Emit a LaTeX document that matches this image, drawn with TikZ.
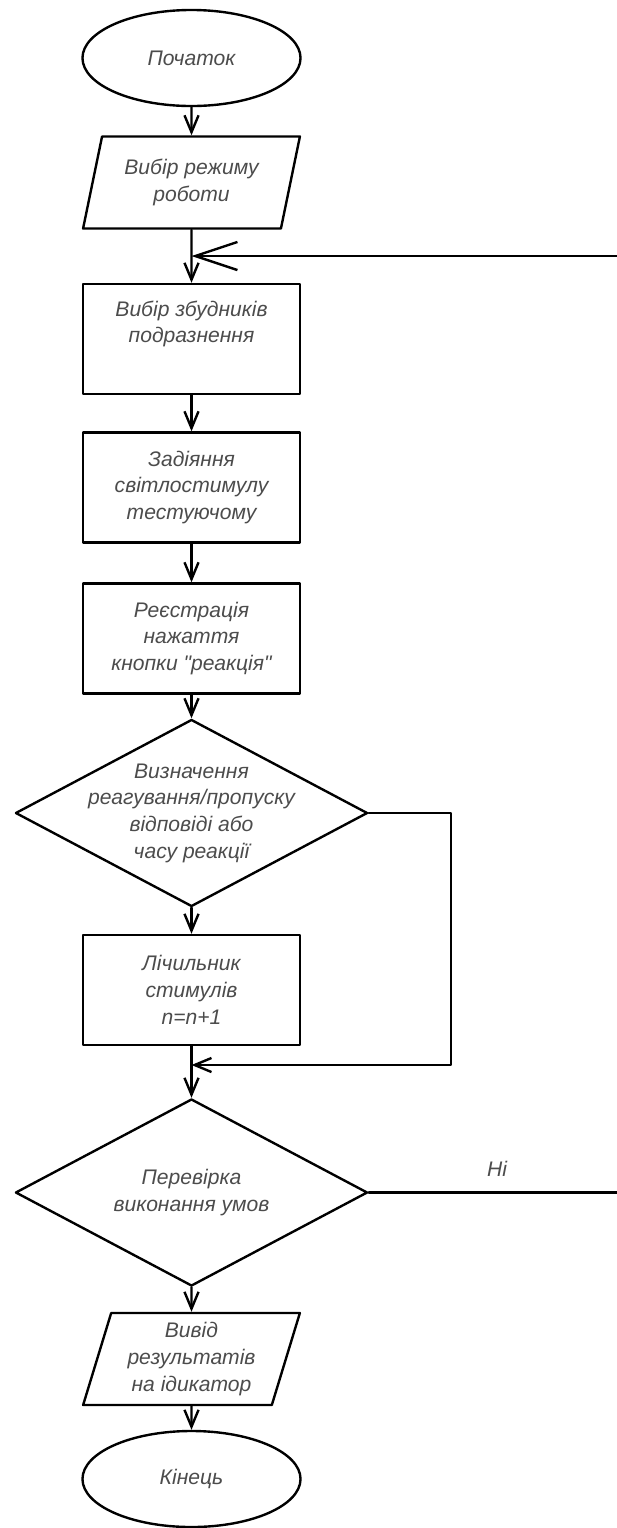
\documentclass[tikz,border=0pt]{standalone}
\usepackage{fontspec}
\setmainfont{Liberation Sans}
\usetikzlibrary{arrows.meta, positioning, shapes.geometric}

\begin{document}
\begin{tikzpicture}[x=0.025cm, y=-0.025cm, >={Straight Barb[length=12pt, width=10pt]}, line cap=round, line join=round]
	\def\cx{191.5}
	
	\tikzset{
		txt/.style={font=\itshape\fontsize{15}{19}\selectfont, text=black!70, align=center},
		term/.style={ellipse, draw, line width=1.7pt, minimum width=5.45cm, minimum height=2.4cm, inner sep=0pt, txt},
		io/.style={trapezium, trapezium left angle=73, trapezium right angle=107, trapezium stretches=true, draw, line width=1.7pt, minimum width=5.425cm, minimum height=2.3cm, inner sep=0pt, txt},
		proc/.style={rectangle, draw, line width=1.7pt, minimum width=5.425cm, minimum height=2.75cm, inner sep=0pt, txt},
		cond/.style={diamond, draw, line width=1.7pt, minimum width=8.8cm, minimum height=4.675cm, inner sep=0pt},
		arr/.style={line width=1.7pt, ->},
		bigarr/.style={line width=1.7pt, -{Straight Barb[length=30pt, width=20pt]}}
	}
	
	\useasboundingbox (0,0) rectangle (617,1528);
	
	\node[term] (start) at (\cx,58) {Початок};
	\node[io] (in1) at (\cx,182.5) {Вибір режиму\\роботи};
	\node[proc] (sel) at (\cx,339) {Вибір збудників\\подразнення\\ \strut};
	\node[proc] (stim) at (\cx,487.5) {Задіяння\\світлостимулу\\тестуючому};
	\node[proc] (reg) at (\cx,638.5) {Реєстрація\\нажаття\\кнопки \textquotedbl реакція\textquotedbl};
	\node[cond, label={[txt]center:Визначення\\реагування/пропуску\\відповіді або\\часу реакції}] (dec1) at (\cx,813) {};
	\node[proc] (cnt) at (\cx,990) {Лічильник\\стимулів\\n=n+1};
	\node[cond, label={[txt]center:Перевірка\\виконання умов}] (dec2) at (\cx,1192.5) {};
	\node[io] (out) at (\cx,1359) {Вивід\\результатів\\на ідикатор};
	\node[term] (stop) at (\cx,1479) {Кінець};
	
	\coordinate (ret) at (617,256);
	\coordinate (join) at (\cx,256);
	\coordinate (brk) at (451,1065);
	\coordinate (merge) at (\cx,1065);
	\coordinate (exit) at (617,1192.5);
	
	\draw[arr] (start) -- (in1);
	\draw[arr] (in1) -- (sel);
	\draw[bigarr] (ret) -- (join);
	\draw[arr] (sel) -- (stim);
	\draw[arr] (stim) -- (reg);
	\draw[arr] (reg) -- (dec1);
	\draw[arr] (dec1) -- (cnt);
	\draw[arr] (dec1.east) -| (brk) -- (merge);
	\draw[arr] (cnt) -- (dec2);
	\draw[line width=1.7pt] (dec2.east) -- (exit);
	\node[txt] (no) at (497,1169) {Ні};
	\draw[arr] (dec2) -- (out);
	\draw[arr] (out) -- (stop);
	
\end{tikzpicture}
\end{document}
